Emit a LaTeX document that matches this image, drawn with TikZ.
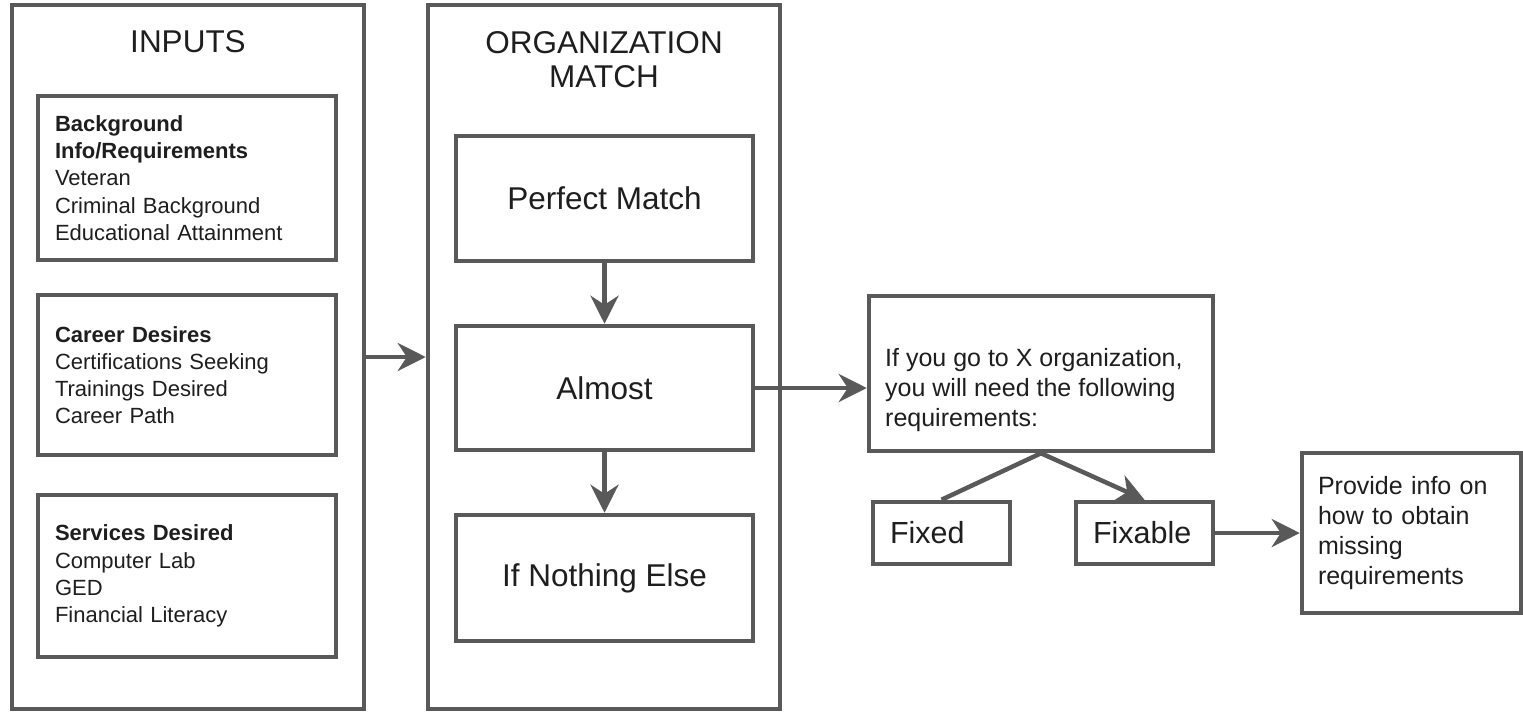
\documentclass[tikz,border=0pt]{standalone}
\usepackage{fontspec}
\setmainfont{Liberation Sans}
\usetikzlibrary{arrows.meta}
\definecolor{edge}{HTML}{595959}
\definecolor{ink}{HTML}{1E1E1E}
\tikzset{
  panel/.style={draw=edge, line width=4.5pt, rectangle, inner sep=0pt,
    minimum width=352pt, minimum height=704pt},
  box/.style={draw=edge, line width=4.5pt, rectangle, inner sep=0pt, text=ink, fill=white},
  arr/.style={draw=edge, line width=4.5pt, -{Stealth[length=28pt,width=28pt,inset=9pt]}},
  link/.style={draw=edge, line width=4.5pt},
  title/.style={text=ink, font=\fontsize{31.5}{34}\selectfont, align=center, inner sep=0pt},
  stage/.style={box, minimum width=297pt, font=\fontsize{31.5}{36}\selectfont},
  listbox/.style={box, text width=264pt, inner xsep=17pt, align=left,
    font=\fontsize{22}{27.2}\selectfont},
  tag/.style={box, text width=103pt, inner xsep=17pt, align=left, minimum height=62pt,
    font=\fontsize{30.5}{34}\selectfont},
  note/.style={text=ink, align=left, inner sep=0pt, font=\fontsize{25}{30}\selectfont},
}
\begin{document}
\begin{tikzpicture}[x=1pt, y=-1pt]
  \useasboundingbox (0,0) rectangle (1523,713);

  % two tall panels
  \node[panel] (inputs) at (188,357) {};
  \node[panel] (org) at (604,357) {};
  \node[title] (intitle) at (188,42) {INPUTS};
  \node[title] (orgtitle) at (604,60) {ORGANIZATION\\MATCH};

  % input categories
  \node[listbox, minimum height=164pt] (bg) at (187,178)
    {\textbf{Background}\\\textbf{Info/Requirements}\\Veteran\\Criminal Background\\Educational Attainment};
  \node[listbox, minimum height=160pt] (career) at (187,375)
    {\textbf{Career Desires}\\Certifications Seeking\\Trainings Desired\\Career Path};
  \node[listbox, minimum height=162pt] (services) at (187,576)
    {\textbf{Services Desired}\\Computer Lab\\GED\\Financial Literacy};

  % match levels
  \node[stage, minimum height=125pt] (perfect) at (604.5,198.5) {Perfect Match};
  \node[stage, minimum height=124pt] (almost) at (604.5,388) {Almost};
  \node[stage, minimum height=126pt] (nothing) at (604.5,578) {If Nothing Else};

  % requirements branch
  \node[box, minimum width=344pt, minimum height=155pt] (req) at (1041,373.5) {};
  \node[note, anchor=west] (reqtext) at (885,390)
    {If you go to X organization,\\you will need the following\\requirements:};
  \node[tag] (fixed) at (941.5,533) {Fixed};
  \node[tag] (fixable) at (1144.5,533) {Fixable};
  \node[box, text width=187pt, inner xsep=16pt, align=left, minimum height=160pt,
    font=\fontsize{25}{30}\selectfont] (info) at (1411.5,533)
    {Provide info on\\how to obtain\\missing\\requirements};

  % connectors
  \draw[arr] (inputs.east) -- (org.west);
  \draw[arr] (perfect.south) -- (almost.north);
  \draw[arr] (almost.south) -- (nothing.north);
  \draw[arr] (almost.east) -- (almost.east -| req.west);
  \draw[link] (req.south) -- (fixed.north);
  \draw[arr] (req.south) -- (fixable.north);
  \draw[arr] (fixable.east) -- (info.west);
\end{tikzpicture}
\end{document}
